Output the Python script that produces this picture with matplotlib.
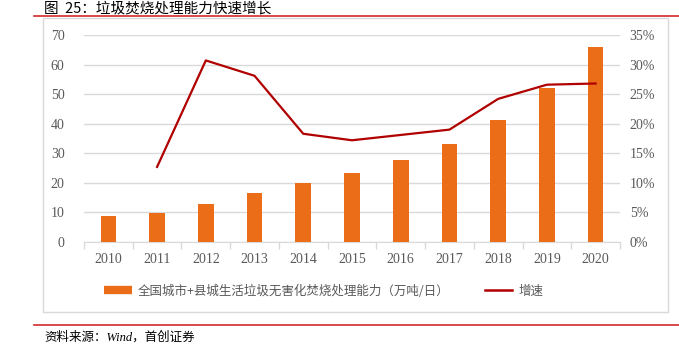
import matplotlib
matplotlib.use("Agg")
import matplotlib.pyplot as plt
from matplotlib.lines import Line2D
from matplotlib.patches import Rectangle
from matplotlib.ticker import FuncFormatter, FixedLocator

years = ["2010", "2011", "2012", "2013", "2014", "2015", "2016", "2017", "2018", "2019", "2020"]
capacity = [8.7, 9.8, 13.0, 16.7, 19.8, 23.3, 27.7, 33.0, 41.1, 52.0, 66.0]
growth = [None, 0.127, 0.307, 0.281, 0.183, 0.172, 0.181, 0.190, 0.242, 0.266, 0.268]

title = "图  25：垃圾焚烧处理能力快速增长"
bar_label = "全国城市+县城生活垃圾无害化焚烧处理能力（万吨/日）"
line_label = "增速"
source = "资料来源：Wind，首创证券"

W, H = 679, 358
fig = plt.figure(figsize=(W / 100, H / 100), dpi=100)

serif = ["Liberation Serif", "DejaVu Serif"]
cjk = ["Noto Sans CJK SC", "DejaVu Sans"]
grey = "#595959"
gridc = "#d9d9d9"
orange = "#EC6D17"
dark_red = "#B00000"

def px(x0, y0, x1, y1):
    return [x0 / W, 1 - y1 / H, (x1 - x0) / W, (y1 - y0) / H]

ax = fig.add_axes(px(84, 35, 620, 242))
x = list(range(len(years)))
ax.bar(x, capacity, width=0.32, color=orange, zorder=3)
ax.set_ylim(0, 70)
ax.set_xlim(-0.5, len(years) - 0.5)
ax.set_yticks(range(0, 71, 10))
ax.yaxis.grid(True, color=gridc, lw=1, zorder=0)
ax.set_axisbelow(True)
for s in ["top", "right", "left"]:
    ax.spines[s].set_visible(False)
ax.spines["bottom"].set_color(gridc)
ax.tick_params(axis="y", length=0, pad=14, labelsize=10, labelcolor=grey)
ax.set_xticks(x)
ax.set_xticklabels(years)
ax.tick_params(axis="x", which="major", length=0, pad=8, labelsize=10, labelcolor=grey)
ax.xaxis.set_minor_locator(FixedLocator([i - 0.5 for i in range(len(years) + 1)]))
ax.tick_params(axis="x", which="minor", length=5, color=gridc, width=1)
for lab in ax.get_xticklabels() + ax.get_yticklabels():
    lab.set_fontfamily(serif)

ax2 = ax.twinx()
gx = [i for i, g in enumerate(growth) if g is not None]
gy = [g for g in growth if g is not None]
ax2.plot(gx, gy, color=dark_red, lw=1.6, zorder=4)
ax2.set_ylim(0, 0.35)
ax2.set_yticks([i * 0.05 for i in range(8)])
ax2.yaxis.set_major_formatter(FuncFormatter(lambda v, p: f"{v*100:.0f}%"))
for s in ["top", "right", "left", "bottom"]:
    ax2.spines[s].set_visible(False)
ax2.tick_params(axis="y", length=0, pad=7, labelsize=10, labelcolor=grey)
for lab in ax2.get_yticklabels():
    lab.set_fontfamily(serif)

# frame
fig.patches.append(Rectangle((43 / W, 1 - 312 / H), (668 - 43) / W, (312 - 18) / H,
                             transform=fig.transFigure, fill=False, edgecolor=gridc, lw=1))
# red rules
fig.add_artist(Line2D([34 / W, 1], [1 - 16 / H, 1 - 16 / H], color="#d42a2a", lw=1.2))
fig.add_artist(Line2D([34 / W, 1], [1 - 325 / H, 1 - 325 / H], color="#d42a2a", lw=1.2))

fig.text(44 / W, 1 - 8 / H, title, family=cjk, fontsize=10.5, va="center", ha="left", color="#000000")
fig.text(44 / W, 1 - 337 / H, source, family=["Liberation Serif", "Noto Sans CJK SC"], style="italic",
         fontsize=9, va="center", ha="left", color="#000000")

handles = [Line2D([], [], color=orange, lw=6, solid_capstyle="butt"),
           Line2D([], [], color=dark_red, lw=1.8)]
leg = fig.legend(handles, [bar_label, line_label], loc="center", bbox_to_anchor=(0.477, 1 - 291 / H),
                 ncol=2, frameon=False, prop={"family": cjk, "size": 9}, handlelength=2.2,
                 columnspacing=2.8, handletextpad=0.5)
for t in leg.get_texts():
    t.set_color(grey)

fig.savefig("out.png", dpi=100)
